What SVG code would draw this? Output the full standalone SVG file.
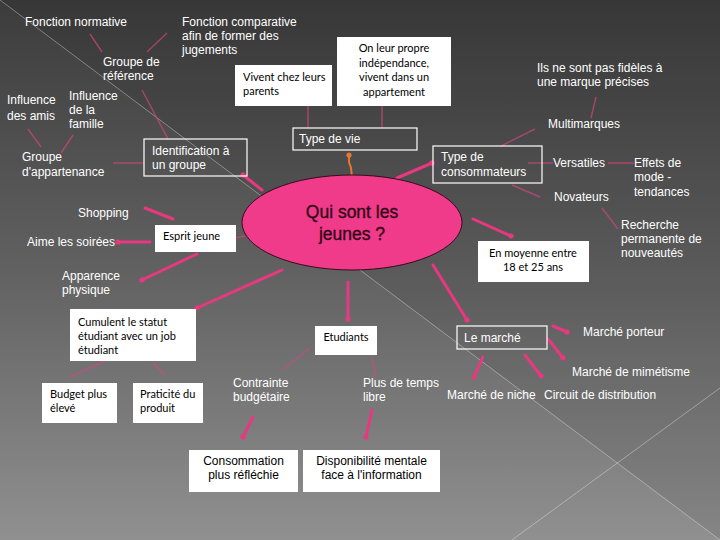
<svg xmlns="http://www.w3.org/2000/svg" width="720" height="540" viewBox="0 0 720 540">
<defs>
<linearGradient id="bg" x1="0" y1="0" x2="0" y2="1">
<stop offset="0" stop-color="#3c3c3c"/>
<stop offset="0.5" stop-color="#616161"/>
<stop offset="1" stop-color="#909090"/>
</linearGradient>
<marker id="dot" viewBox="-3 -3 6 6" markerWidth="6" markerHeight="6" markerUnits="userSpaceOnUse" refX="0" refY="0" orient="auto">
<circle r="2.6" fill="#e8387f"/>
</marker>
<marker id="odot" viewBox="-3 -3 6 6" markerWidth="6" markerHeight="6" markerUnits="userSpaceOnUse" refX="0" refY="0" orient="auto">
<circle r="2.6" fill="#e8762e"/>
</marker>
<style>
.w{font-family:"Liberation Sans",Arial,sans-serif;font-size:12px;fill:#ffffff}
.b{font-family:Lato,"Liberation Sans",sans-serif;font-size:11px;fill:#000000}
.ba{font-family:"Liberation Sans",Arial,sans-serif;font-size:12px;fill:#000000}
.bx{fill:#ffffff;stroke:none}
.ob{fill:none;stroke:#ffffff;stroke-width:1.2}
.thin{stroke:#d8457f;stroke-width:1.5;fill:none;opacity:0.65}
.thick{stroke:#e8387f;stroke-width:3;fill:none;stroke-linecap:round}
.bgl{stroke:#ffffff;stroke-opacity:0.35;stroke-width:1}
.ct{font-family:"Liberation Sans",Arial,sans-serif;font-size:17.5px;fill:#2e0614;stroke:#2e0614;stroke-width:0.3}
</style>
</defs>
<rect x="0" y="0" width="720" height="540" fill="url(#bg)"/>
<polygon points="0,0 720,0 720,540" fill="#000000" opacity="0.07"/>
<line class="bgl" x1="0" y1="0" x2="720" y2="540"/>
<line class="bgl" x1="720" y1="388" x2="512" y2="540"/>

<g id="connectors">
<line class="thin" x1="90" y1="34" x2="102" y2="52"/>
<line class="thin" x1="167" y1="33" x2="147" y2="52"/>
<line class="thin" x1="142" y1="90" x2="168" y2="139"/>
<line class="thin" x1="28" y1="129" x2="41" y2="147"/>
<line class="thin" x1="73" y1="135" x2="61" y2="153"/>
<line class="thin" x1="113" y1="163" x2="144" y2="163"/>
<line class="thin" x1="308" y1="106" x2="308" y2="128"/>
<line class="thin" x1="382" y1="106" x2="382" y2="128"/>
<path d="M352,177 L351,168 L349,162 L349,155" stroke="#e8762e" stroke-width="2" fill="none" marker-end="url(#odot)"/>
<line class="thin" x1="596" y1="97" x2="591" y2="118"/>
<line class="thin" x1="535" y1="129" x2="501" y2="146"/>
<line class="thin" x1="528" y1="163" x2="553" y2="163"/>
<line class="thin" x1="608" y1="163" x2="634" y2="163"/>
<line class="thin" x1="512" y1="185" x2="540" y2="197"/>
<line class="thin" x1="602" y1="208" x2="618" y2="229"/>
<line class="thick" x1="397" y1="178" x2="432" y2="163" marker-end="url(#dot)"/>
<line class="thick" x1="262" y1="190" x2="243" y2="175" marker-end="url(#dot)"/>
<line class="thick" x1="473" y1="219" x2="511" y2="236" marker-end="url(#dot)"/>
<line class="thin" x1="235" y1="238" x2="245" y2="236"/>
<line class="thick" x1="173" y1="219" x2="145" y2="208"/>
<line class="thick" x1="150" y1="242" x2="118" y2="242" marker-end="url(#dot)"/>
<line class="thick" x1="197" y1="254" x2="142" y2="280" marker-end="url(#dot)"/>
<line class="thick" x1="282" y1="270" x2="197" y2="308" marker-end="url(#dot)"/>
<line class="thin" x1="105" y1="361" x2="70" y2="377"/>
<line class="thin" x1="153" y1="363" x2="165" y2="375"/>
<line class="thick" x1="348" y1="282" x2="348" y2="319" marker-end="url(#dot)"/>
<line class="thin" x1="310" y1="348" x2="282" y2="370"/>
<line class="thin" x1="372" y1="358" x2="376" y2="377"/>
<line class="thick" x1="253" y1="417" x2="243" y2="437" marker-end="url(#dot)"/>
<line class="thick" x1="372" y1="410" x2="366" y2="437" marker-end="url(#dot)"/>
<line class="thick" x1="433" y1="265" x2="467" y2="320" marker-end="url(#dot)"/>
<line class="thick" x1="553" y1="326" x2="567" y2="332" marker-end="url(#dot)"/>
<line class="thick" x1="548" y1="339" x2="563" y2="358" marker-end="url(#dot)"/>
<line class="thick" x1="483" y1="357" x2="474" y2="377" marker-end="url(#dot)"/>
<line class="thick" x1="525" y1="355" x2="541" y2="376" marker-end="url(#dot)"/>
</g>

<g id="center">
<ellipse cx="352" cy="222.5" rx="110" ry="47.5" fill="#f03a8a" stroke="#3a0a1e" stroke-width="1"/>
<text class="ct" x="352" y="218" text-anchor="middle">Qui sont les</text>
<text class="ct" x="352" y="240" text-anchor="middle">jeunes ?</text>
</g>

<g id="fonction-normative"><text class="w" x="25" y="26">Fonction normative</text></g>
<g id="fonction-comparative"><text class="w" x="182" y="26">Fonction comparative</text><text class="w" x="182" y="40">afin de former des</text><text class="w" x="182" y="54">jugements</text></g>
<g id="groupe-reference"><text class="w" x="103" y="66">Groupe de</text><text class="w" x="103" y="80">référence</text></g>
<g id="influence-amis"><text class="w" x="7" y="104">Influence</text><text class="w" x="7" y="120">des amis</text></g>
<g id="influence-famille"><text class="w" x="69" y="100">Influence</text><text class="w" x="69" y="114">de la</text><text class="w" x="69" y="128">famille</text></g>
<g id="groupe-appartenance"><text class="w" x="22" y="161">Groupe</text><text class="w" x="22" y="176">d'appartenance</text></g>
<g id="identification"><rect class="ob" x="144" y="139" width="103" height="37"/><text class="w" x="152" y="155">Identification à</text><text class="w" x="152" y="169">un groupe</text></g>

<g id="vivent-parents"><rect class="bx" x="235" y="65" width="97" height="41"/><text class="b" x="243" y="81">Vivent chez leurs</text><text class="b" x="243" y="95">parents</text></g>
<g id="independance"><rect class="bx" x="337" y="37" width="114" height="69"/><text class="b" x="394" y="52" text-anchor="middle">On leur propre</text><text class="b" x="394" y="67" text-anchor="middle">indépendance,</text><text class="b" x="394" y="81" text-anchor="middle">vivent dans un</text><text class="b" x="394" y="96" text-anchor="middle">appartement</text></g>
<g id="type-vie"><rect class="ob" x="293" y="128" width="124" height="22"/><text class="w" x="299" y="143">Type de vie</text></g>

<g id="fideles"><text class="w" x="537" y="72">Ils ne sont pas fidèles à</text><text class="w" x="537" y="86">une marque précises</text></g>
<g id="multimarques"><text class="w" x="548" y="128">Multimarques</text></g>
<g id="type-consommateurs"><rect class="ob" x="433" y="146" width="109" height="37"/><text class="w" x="441" y="161">Type de</text><text class="w" x="441" y="176">consommateurs</text></g>
<g id="versatiles"><text class="w" x="553" y="167">Versatiles</text></g>
<g id="effets-mode"><text class="w" x="634" y="167">Effets de</text><text class="w" x="634" y="181">mode -</text><text class="w" x="634" y="196">tendances</text></g>
<g id="novateurs"><text class="w" x="554" y="201">Novateurs</text></g>
<g id="recherche"><text class="w" x="621" y="229">Recherche</text><text class="w" x="621" y="243">permanente de</text><text class="w" x="621" y="257">nouveautés</text></g>
<g id="age"><rect class="bx" x="478" y="241" width="111" height="41"/><text class="b" x="533" y="257" text-anchor="middle">En moyenne entre</text><text class="b" x="533" y="271" text-anchor="middle">18 et 25 ans</text></g>

<g id="shopping"><text class="w" x="78" y="217">Shopping</text></g>
<g id="esprit-jeune"><rect class="bx" x="155" y="225" width="81" height="27"/><text class="b" x="163" y="240">Esprit jeune</text></g>
<g id="soirees"><text class="w" x="27" y="246">Aime les soirées</text></g>
<g id="apparence"><text class="w" x="62" y="280">Apparence</text><text class="w" x="62" y="294">physique</text></g>

<g id="cumulent"><rect class="bx" x="70" y="309" width="126" height="52"/><text class="b" x="78" y="326">Cumulent le statut</text><text class="b" x="78" y="340">étudiant avec un job</text><text class="b" x="78" y="354">étudiant</text></g>
<g id="budget"><rect class="bx" x="42" y="383" width="75" height="40"/><text class="b" x="50" y="398">Budget plus</text><text class="b" x="50" y="412">élevé</text></g>
<g id="praticite"><rect class="bx" x="133" y="383" width="70" height="40"/><text class="b" x="140" y="398">Praticité du</text><text class="b" x="140" y="412">produit</text></g>

<g id="etudiants"><rect class="bx" x="315" y="326" width="62" height="29"/><text class="b" x="346" y="341" text-anchor="middle">Etudiants</text></g>
<g id="contrainte"><text class="w" x="233" y="387">Contrainte</text><text class="w" x="233" y="401">budgétaire</text></g>
<g id="temps-libre"><text class="w" x="363" y="387">Plus de temps</text><text class="w" x="363" y="401">libre</text></g>
<g id="consommation"><rect class="bx" x="189" y="450" width="109" height="42"/><text class="ba" x="243.5" y="465" text-anchor="middle">Consommation</text><text class="ba" x="243.5" y="479" text-anchor="middle">plus réfléchie</text></g>
<g id="disponibilite"><rect class="bx" x="303" y="450" width="137" height="42"/><text class="ba" x="371.5" y="465" text-anchor="middle">Disponibilité mentale</text><text class="ba" x="371.5" y="479" text-anchor="middle">face à l'information</text></g>

<g id="marche"><rect class="ob" x="457" y="326" width="90" height="23"/><text class="w" x="464" y="342">Le marché</text></g>
<g id="marche-porteur"><text class="w" x="583" y="336">Marché porteur</text></g>
<g id="marche-mimetisme"><text class="w" x="572" y="376">Marché de mimétisme</text></g>
<g id="marche-niche"><text class="w" x="447" y="399">Marché de niche</text></g>
<g id="circuit"><text class="w" x="544" y="399">Circuit de distribution</text></g>
</svg>
